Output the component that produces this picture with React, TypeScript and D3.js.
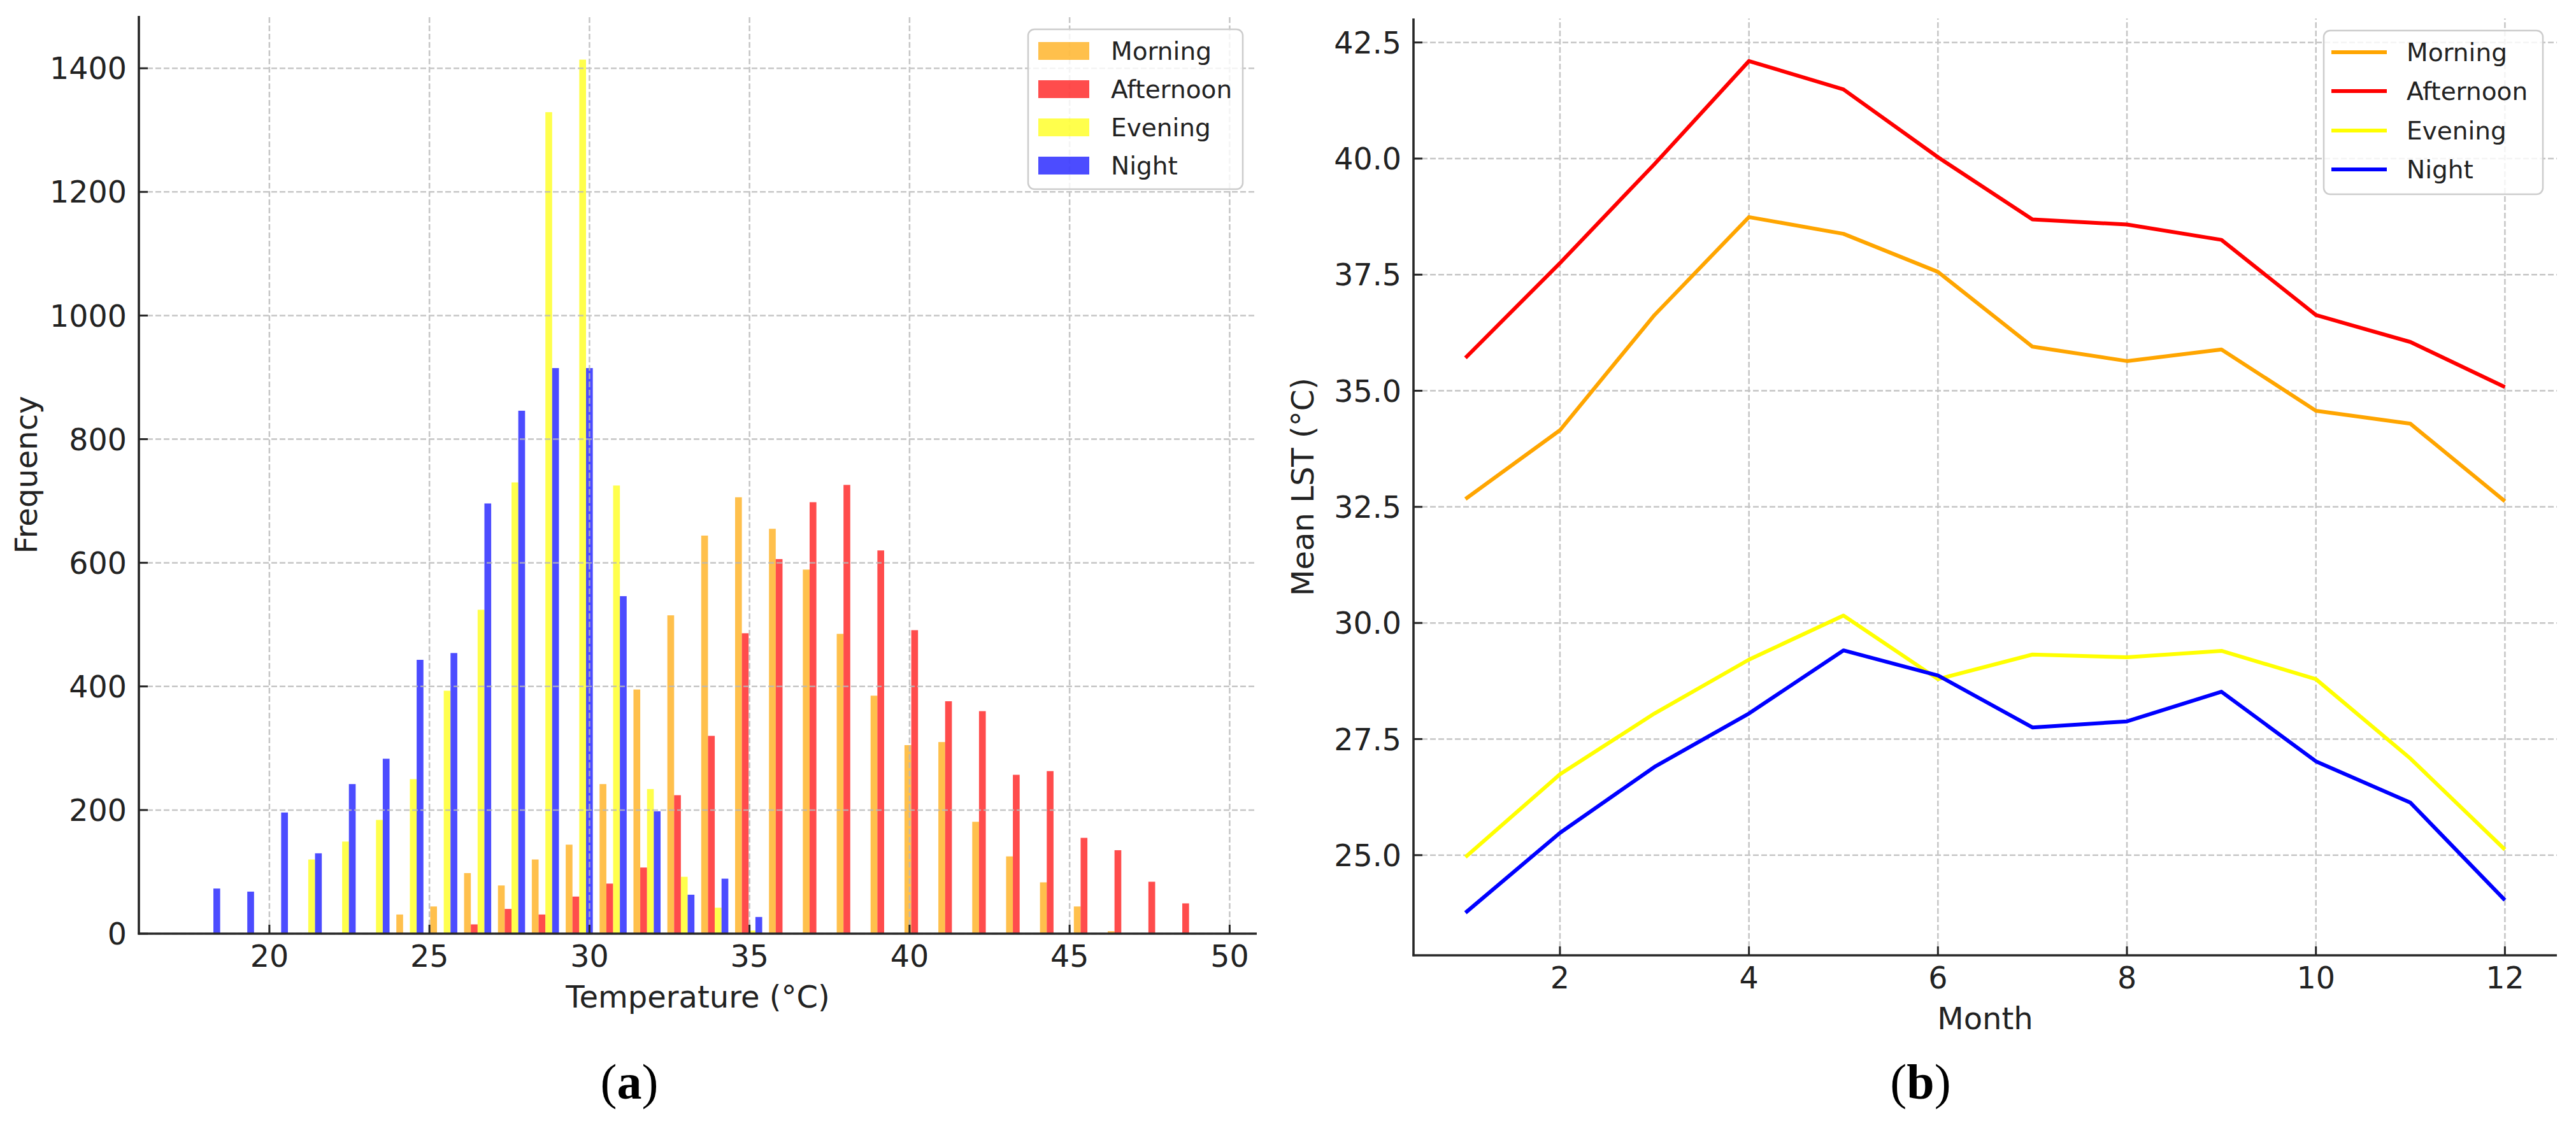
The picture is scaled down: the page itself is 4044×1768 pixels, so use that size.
import React from "react"
import * as d3 from "d3"

// ---- data ----
const seriesNames = ["Morning", "Afternoon", "Evening", "Night"]
const histColors = ["orange", "red", "yellow", "blue"]
const lineColors = ["#ffa500", "#ff0000", "#ffff00", "#0000ff"]

// histogram: 30 equal bins between the min and max temperature
const tempMin = 17.51
const tempMax = 49.26
const binCount = 30

const morningCounts = [0, 0, 0, 0, 0, 0, 31, 44, 98, 78, 120, 144, 242, 395, 515, 644, 706, 655, 589, 485, 385, 305, 310, 181, 125, 83, 44, 4, 0, 0]
const afternoonCounts = [0, 0, 0, 0, 0, 0, 0, 0, 15, 40, 31, 60, 81, 107, 224, 320, 486, 606, 698, 726, 620, 491, 376, 360, 257, 263, 155, 135, 84, 49]
const eveningCounts = [0, 0, 0, 120, 149, 184, 250, 393, 524, 730, 1329, 1414, 725, 234, 92, 42, 5, 0, 0, 0, 0, 0, 0, 0, 0, 0, 0, 0, 0, 0]
const nightCounts = [73, 68, 196, 130, 242, 283, 443, 454, 696, 846, 915, 915, 546, 198, 63, 89, 27, 0, 0, 0, 0, 0, 0, 0, 0, 0, 0, 0, 0, 0]

const tempTicks = [20, 25, 30, 35, 40, 45, 50]
const freqTicks = [0, 200, 400, 600, 800, 1000, 1200, 1400]

// monthly mean LST
const months = [1, 2, 3, 4, 5, 6, 7, 8, 9, 10, 11, 12]
const morningLST = [32.67, 34.15, 36.63, 38.74, 38.38, 37.56, 35.95, 35.64, 35.89, 34.57, 34.29, 32.62]
const afternoonLST = [35.71, 37.75, 39.88, 42.1, 41.49, 40.03, 38.69, 38.58, 38.25, 36.63, 36.05, 35.08]
const eveningLST = [24.96, 26.74, 28.05, 29.21, 30.16, 28.79, 29.32, 29.26, 29.4, 28.79, 27.08, 25.12]
const nightLST = [23.76, 25.48, 26.9, 28.05, 29.41, 28.87, 27.75, 27.88, 28.52, 27.02, 26.13, 24.03]

const monthTicks = [2, 4, 6, 8, 10, 12]
const lstTicks = [25, 27.5, 30, 32.5, 35, 37.5, 40, 42.5]

const W = 4044
const H = 1768
const FONT = "DejaVu Sans"
const TEXT = "#222"
const TICK_FS = 47.5
const LEGEND_FS = 39

// matplotlib-like 5% autoscale margin
const pad = (lo: number, hi: number) => {
  const m = (hi - lo) * 0.05
  return [lo - m, hi + m]
}

const Grid = ({ xs, ys, x, y }: any) => (
  <g stroke="#b8b8b8" strokeWidth={2.5} strokeDasharray="9,4" opacity={0.8}>
    {xs.map((t: number) => (
      <line key={"gx" + t} x1={x(t)} x2={x(t)} y1={y.range()[0]} y2={y.range()[1]} />
    ))}
    {ys.map((t: number) => (
      <line key={"gy" + t} x1={x.range()[0]} x2={x.range()[1]} y1={y(t)} y2={y(t)} />
    ))}
  </g>
)

const Axes = ({ xs, ys, x, y, fmtY, xLabel, yLabel, yLabelX }: any) => {
  const [x0, x1] = x.range()
  const [yb, yt] = y.range()
  return (
    <g fontFamily={FONT} fill={TEXT}>
      <line x1={x0} x2={x0} y1={yb + 1.5} y2={yt} stroke="#262626" strokeWidth={3.6} />
      <line x1={x0 - 1.5} x2={x1} y1={yb} y2={yb} stroke="#262626" strokeWidth={3.6} />
      {xs.map((t: number) => (
        <g key={"tx" + t}>
          <line x1={x(t)} x2={x(t)} y1={yb} y2={yb - 14} stroke="#262626" strokeWidth={3} />
          <text x={x(t)} y={yb + 52} textAnchor="middle" fontSize={TICK_FS}>
            {t}
          </text>
        </g>
      ))}
      {ys.map((t: number) => (
        <g key={"ty" + t}>
          <line x1={x0} x2={x0 + 14} y1={y(t)} y2={y(t)} stroke="#262626" strokeWidth={3} />
          <text x={x0 - 19} y={y(t)} dy="0.36em" textAnchor="end" fontSize={TICK_FS}>
            {fmtY(t)}
          </text>
        </g>
      ))}
      <text x={(x0 + x1) / 2} y={yb + 116} textAnchor="middle" fontSize={48}>
        {xLabel}
      </text>
      <text
        transform={`translate(${yLabelX},${(yb + yt) / 2}) rotate(-90)`}
        textAnchor="middle"
        fontSize={48}
      >
        {yLabel}
      </text>
    </g>
  )
}

const LegendBox = ({ x, y, w, h, rowY, children }: any) => (
  <g fontFamily={FONT} fontSize={LEGEND_FS} fill={TEXT}>
    <rect x={x} y={y} width={w} height={h} rx={10} fill="#fff" fillOpacity={0.8} stroke="#cccccc" strokeWidth={2.5} />
    {children}
    {seriesNames.map((s, i) => (
      <text key={s} x={x + 130} y={rowY[i]} dy="0.36em">
        {s}
      </text>
    ))}
  </g>
)

const Caption = ({ cx, letter }: any) => (
  <text x={cx} y={1725} textAnchor="middle" fontFamily="Liberation Serif" fontSize={78} fill="#000">
    (<tspan fontWeight="bold">{letter}</tspan>)
  </text>
)

export default function App() {
  // ---------- panel (a): histogram ----------
  const counts = [morningCounts, afternoonCounts, eveningCounts, nightCounts]
  const binW = (tempMax - tempMin) / binCount
  const edges = d3.range(binCount).map((i) => tempMin + i * binW)
  const xA = d3.scaleLinear().domain(pad(tempMin, tempMax)).range([218, 1973])
  const maxCount = d3.max(counts.flat()) || 0
  const yA = d3.scaleLinear().domain([0, maxCount * 1.05]).range([1466, 25])
  // each bin split into 4 side-by-side bars covering 80% of the bin
  const barW = (binW * 0.8) / 4

  // ---------- panel (b): monthly lines ----------
  const lst = [morningLST, afternoonLST, eveningLST, nightLST]
  const xB = d3.scaleLinear().domain(pad(1, 12)).range([2219, 4014])
  const [lo, hi] = d3.extent(lst.flat()) as [number, number]
  const yB = d3.scaleLinear().domain(pad(lo, hi)).range([1500, 29])
  const line = d3
    .line<number>()
    .x((_, i) => xB(months[i]))
    .y((d) => yB(d))

  const legA = { x: 1614, y: 46, w: 337, h: 251, rows: [80, 140, 200, 260] }
  const legB = { x: 3648, y: 48, w: 344, h: 257, rows: [82, 143, 205, 266] }

  return (
    <svg
      width={W}
      height={H}
      viewBox={`0 0 ${W} ${H}`}
      style={{ position: "absolute", left: 0, top: 0, background: "#fff" }}
    >
      <rect width={W} height={H} fill="#fff" />

      {/* (a) histogram bars */}
      <g>
        {counts.map((series, k) =>
          series.map((c, i) =>
            c > 0 ? (
              <rect
                key={`b${k}-${i}`}
                x={xA(edges[i] + binW * 0.1 + k * barW)}
                width={xA(edges[i] + binW * 0.1 + (k + 1) * barW) - xA(edges[i] + binW * 0.1 + k * barW)}
                y={yA(c)}
                height={yA(0) - yA(c)}
                fill={histColors[k]}
                fillOpacity={0.7}
              />
            ) : null
          )
        )}
      </g>
      <Grid xs={tempTicks} ys={freqTicks} x={xA} y={yA} />
      <Axes
        xs={tempTicks}
        ys={freqTicks}
        x={xA}
        y={yA}
        fmtY={(t: number) => String(t)}
        xLabel="Temperature (°C)"
        yLabel="Frequency"
        yLabelX={58}
      />
      <LegendBox x={legA.x} y={legA.y} w={legA.w} h={legA.h} rowY={legA.rows}>
        {histColors.map((c, i) => (
          <rect key={c} x={legA.x + 16} y={legA.rows[i] - 14} width={80} height={28} fill={c} fillOpacity={0.7} />
        ))}
      </LegendBox>
      <Caption cx={988} letter="a" />

      {/* (b) monthly mean LST */}
      <Grid xs={monthTicks} ys={lstTicks} x={xB} y={yB} />
      <g fill="none" strokeWidth={6} strokeLinejoin="round">
        {lst.map((s, k) => (
          <path key={seriesNames[k]} d={line(s) || ""} stroke={lineColors[k]} />
        ))}
      </g>
      <Axes
        xs={monthTicks}
        ys={lstTicks}
        x={xB}
        y={yB}
        fmtY={(t: number) => t.toFixed(1)}
        xLabel="Month"
        yLabel="Mean LST (°C)"
        yLabelX={2062}
      />
      <LegendBox x={legB.x} y={legB.y} w={legB.w} h={legB.h} rowY={legB.rows}>
        {lineColors.map((c, i) => (
          <line key={c} x1={legB.x + 12} x2={legB.x + 99} y1={legB.rows[i]} y2={legB.rows[i]} stroke={c} strokeWidth={6} />
        ))}
      </LegendBox>
      <Caption cx={3015} letter="b" />
    </svg>
  )
}
